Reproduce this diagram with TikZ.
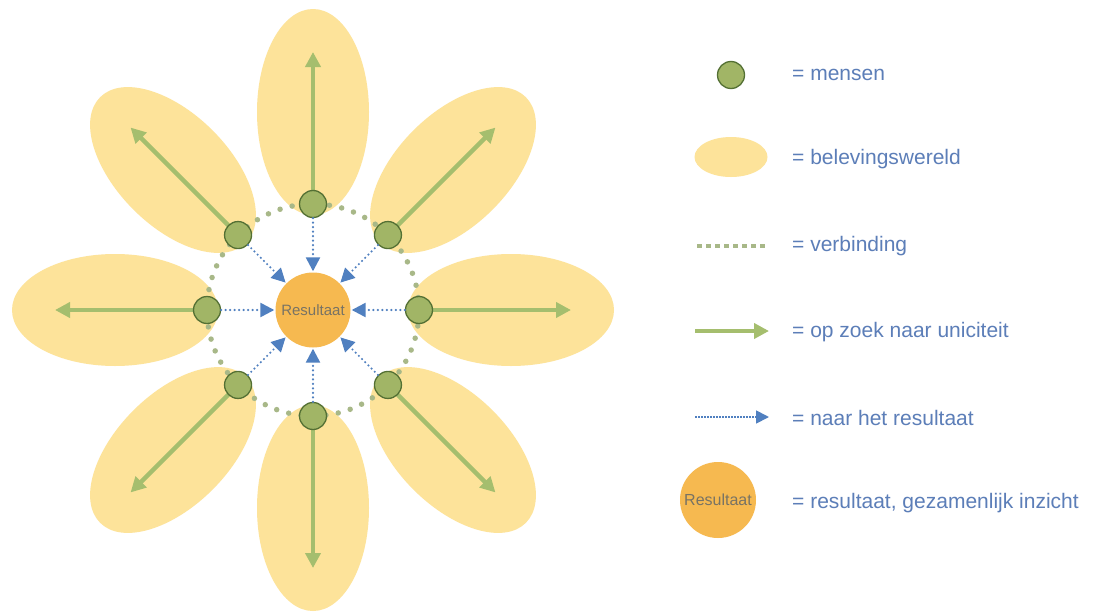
\documentclass[tikz,border=0pt]{standalone}
\usepackage{fontspec}
\setmainfont{Liberation Sans}
\usetikzlibrary{calc,arrows.meta,shapes.geometric}
\definecolor{petalc}{RGB}{253,227,154}
\definecolor{nodefill}{RGB}{161,181,102}
\definecolor{nodeline}{RGB}{84,112,52}
\definecolor{greenar}{RGB}{165,190,110}
\definecolor{ringc}{RGB}{168,184,136}
\definecolor{bluear}{RGB}{80,128,192}
\definecolor{orangec}{RGB}{246,185,80}
\definecolor{restext}{RGB}{120,115,100}
\definecolor{legtext}{RGB}{92,126,184}
\tikzset{
  petal/.style={ellipse, fill=petalc, draw=none, minimum width=206pt, minimum height=112pt, inner sep=0pt},
  mens/.style={circle, fill=nodefill, draw=nodeline, line width=1.3pt, minimum size=27pt, inner sep=0pt},
  resnode/.style={circle, fill=orangec, draw=none, minimum size=75pt, inner sep=0pt, text=restext, font=\fontsize{15}{17}\selectfont},
  greenarrow/.style={draw=greenar, line width=4.5pt, -{Triangle[length=15pt,width=15pt]}},
  bluearrow/.style={draw=bluear, line width=2.4pt, line cap=round, dash pattern=on 0pt off 4.5pt, -{Triangle[length=14pt,width=14pt]}, shorten >=1pt},
  ring/.style={draw=ringc, line width=5.5pt, line cap=round, dash pattern=on 0pt off 12.5pt},
  legtxt/.style={anchor=west, text=legtext, font=\fontsize{21}{24}\selectfont, inner sep=0pt}
}
\begin{document}
\begin{tikzpicture}[x=1pt,y=-1pt]
\useasboundingbox (0,0) rectangle (1093,613);
\fill[white] (0,0) rectangle (1093,613);
\coordinate (c) at (313,310);
% petals
\foreach \a [count=\i] in {0,45,90,135,180,225,270,315} {
  \node[petal, rotate=\a] (p\i) at ($(c)+(\a:198pt)$) {};
}
% ring
\draw[ring] (c) circle[radius=106pt];
% green arrows
\foreach \a [count=\i] in {0,45,90,135,180,225,270,315} {
  \coordinate (m\i) at ($(c)+(\a:106pt)$);
  \coordinate (t\i) at ($(c)+(\a:258pt)$);
  \draw[greenarrow] (m\i) -- (t\i);
}
% result
\node[resnode] (res) at (c) {Resultaat};
% people
\foreach \a [count=\i] in {0,45,90,135,180,225,270,315} {
  \node[mens] (n\i) at (m\i) {};
  \draw[bluearrow] (n\i) -- (res);
}
% legend
\node[mens] (l1) at (731,75) {};
\node[ellipse, fill=petalc, minimum width=73pt, minimum height=40pt, inner sep=0pt] (l2) at (731,157) {};
\coordinate (l3a) at (697,246);
\coordinate (l3b) at (768,246);
\draw[draw=ringc, line width=4pt, dash pattern=on 5pt off 4pt] (l3a) -- (l3b);
\coordinate (l4a) at (695,331);
\coordinate (l4b) at (769,331);
\draw[greenarrow] (l4a) -- (l4b);
\coordinate (l5a) at (695,417);
\coordinate (l5b) at (769,417);
\draw[draw=bluear, line width=1.8pt, dash pattern=on 1.5pt off 1.5pt, -{Triangle[length=13pt,width=13pt]}] (l5a) -- (l5b);
\node[resnode, minimum size=76pt, font=\fontsize{16}{18}\selectfont] (l6) at (718,500) {Resultaat};
\node[legtxt] (t1) at (792,75) {= mensen};
\node[legtxt] (t2) at (792,159) {= belevingswereld};
\node[legtxt] (t3) at (792,246) {= verbinding};
\node[legtxt] (t4) at (792,332) {= op zoek naar uniciteit};
\node[legtxt] (t5) at (792,418) {= naar het resultaat};
\node[legtxt] (t6) at (792,503) {= resultaat, gezamenlijk inzicht};
\end{tikzpicture}
\end{document}
